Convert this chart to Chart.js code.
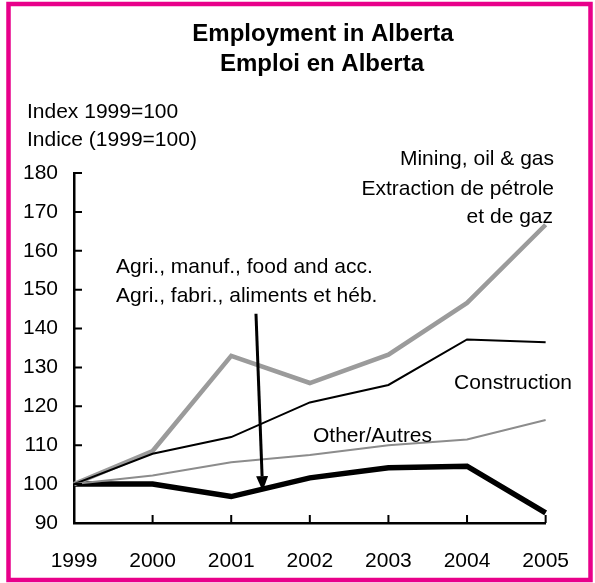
<!DOCTYPE html>
<html lang="en">
<head>
    <meta charset="UTF-8">
    <title>Employment in Alberta</title>
    <script src="https://cdn.jsdelivr.net/npm/chart.js"></script>
    <style>
        body { margin: 0; background: #fff; }
        #wrap { width: 595px; height: 583px; position: relative; }
    </style>
</head>
<body>
    <div id="wrap">
        <canvas id="albertaChart" width="595" height="583"></canvas>
    </div>

    <script>
        // data
        const years = ["1999", "2000", "2001", "2002", "2003", "2004", "2005"];
        const mining = [100, 108.5, 133, 126, 133.3, 146.6, 166.7];
        const construction = [100, 107.8, 112.1, 121, 125.5, 137.2, 136.5];
        const other = [100, 102.2, 105.6, 107.5, 110, 111.5, 116.5];
        const agri = [100, 100, 96.8, 101.6, 104.2, 104.6, 92.6];
        const yTicks = [90, 100, 110, 120, 130, 140, 150, 160, 170, 180];

        const FONT = "'Liberation Sans', Arial, sans-serif";

        // border, titles, notes, arrow and the inward tick marks
        const decorations = {
            id: 'decorations',
            afterDraw(chart) {
                const ctx = chart.ctx;
                const area = chart.chartArea;
                const xs = chart.scales.x;
                const ys = chart.scales.y;
                ctx.save();

                // magenta frame
                ctx.strokeStyle = '#e8008a';
                ctx.lineWidth = 4.5;
                ctx.strokeRect(8.5, 4, 582, 576);

                // inward ticks
                ctx.strokeStyle = '#000';
                ctx.lineWidth = 2;
                ctx.beginPath();
                yTicks.forEach(v => {
                    if (v === 90) return;
                    const py = ys.getPixelForValue(v);
                    ctx.moveTo(area.left, py);
                    ctx.lineTo(area.left + 8, py);
                });
                years.forEach((y, i) => {
                    if (i === 0) return;
                    const px = xs.getPixelForValue(i);
                    ctx.moveTo(px, area.bottom);
                    ctx.lineTo(px, area.bottom - 8);
                });
                ctx.stroke();

                // titles
                ctx.fillStyle = '#000';
                ctx.textBaseline = 'middle';
                ctx.textAlign = 'center';
                ctx.font = 'bold 24px ' + FONT;
                ctx.fillText('Employment in Alberta', 323, 34);
                ctx.fillText('Emploi en Alberta', 322, 64);

                ctx.font = '21px ' + FONT;
                ctx.textAlign = 'left';
                ctx.fillText('Index 1999=100', 27, 112);
                ctx.fillText('Indice (1999=100)', 27, 140);

                ctx.textAlign = 'right';
                ctx.fillText('Mining, oil & gas', 554, 159);
                ctx.fillText('Extraction de pétrole', 554, 189);
                ctx.fillText('et de gaz', 553, 217);
                ctx.fillText('Construction', 572, 383);

                ctx.textAlign = 'left';
                ctx.fillText('Agri., manuf., food and acc.', 116, 267);
                ctx.fillText('Agri., fabri., aliments et héb.', 116, 296);
                ctx.fillText('Other/Autres', 313, 436);

                // arrow to the agri line
                const step = xs.getPixelForValue(1) - xs.getPixelForValue(0);
                const x0 = xs.getPixelForValue(2) + 0.315 * step;
                const y0 = ys.getPixelForValue(143.8);
                const x1 = xs.getPixelForValue(2) + 0.40 * step;
                const y1 = ys.getPixelForValue(98.2);
                const ang = Math.atan2(y1 - y0, x1 - x0);
                const head = 15;
                const half = 6;
                ctx.strokeStyle = '#000';
                ctx.lineWidth = 3;
                ctx.beginPath();
                ctx.moveTo(x0, y0);
                ctx.lineTo(x1 - Math.cos(ang) * head, y1 - Math.sin(ang) * head);
                ctx.stroke();
                ctx.beginPath();
                ctx.moveTo(x1, y1);
                ctx.lineTo(x1 - Math.cos(ang) * head + Math.sin(ang) * half, y1 - Math.sin(ang) * head - Math.cos(ang) * half);
                ctx.lineTo(x1 - Math.cos(ang) * head - Math.sin(ang) * half, y1 - Math.sin(ang) * head + Math.cos(ang) * half);
                ctx.closePath();
                ctx.fill();

                ctx.restore();
            }
        };

        function runChart() {
            const ctx = document.getElementById('albertaChart').getContext('2d');
            new Chart(ctx, {
                type: 'line',
                data: {
                    labels: years,
                    datasets: [
                        { label: 'Other/Autres', data: other, borderColor: '#8c8c8c', borderWidth: 2 },
                        { label: 'Construction', data: construction, borderColor: '#000', borderWidth: 2 },
                        { label: 'Mining, oil & gas', data: mining, borderColor: '#9b9b9b', borderWidth: 4.5 },
                        { label: 'Agri., manuf., food and acc.', data: agri, borderColor: '#000', borderWidth: 5.5 }
                    ]
                },
                options: {
                    responsive: false,
                    animation: false,
                    elements: {
                        point: { radius: 0 },
                        line: { tension: 0, borderJoinStyle: 'miter', borderCapStyle: 'butt' }
                    },
                    layout: { padding: { left: 0, top: 173, right: 39, bottom: 0 } },
                    plugins: {
                        legend: { display: false },
                        tooltip: { enabled: false },
                        title: { display: false }
                    },
                    scales: {
                        x: {
                            offset: false,
                            grid: { display: false, drawTicks: false },
                            border: { display: true, color: '#000', width: 2.5 },
                            ticks: { color: '#000', font: { family: FONT, size: 21 }, padding: 26, maxRotation: 0 },
                            afterFit(scale) { scale.height = 60; }
                        },
                        y: {
                            min: 90,
                            max: 180,
                            grid: { display: false, drawTicks: false },
                            border: { display: true, color: '#000', width: 2.5 },
                            ticks: { color: '#000', stepSize: 10, font: { family: FONT, size: 21 }, padding: 16 },
                            afterFit(scale) { scale.width = 74; }
                        }
                    }
                },
                plugins: [decorations]
            });
        }

        window.onload = runChart;
    </script>
</body>
</html>
